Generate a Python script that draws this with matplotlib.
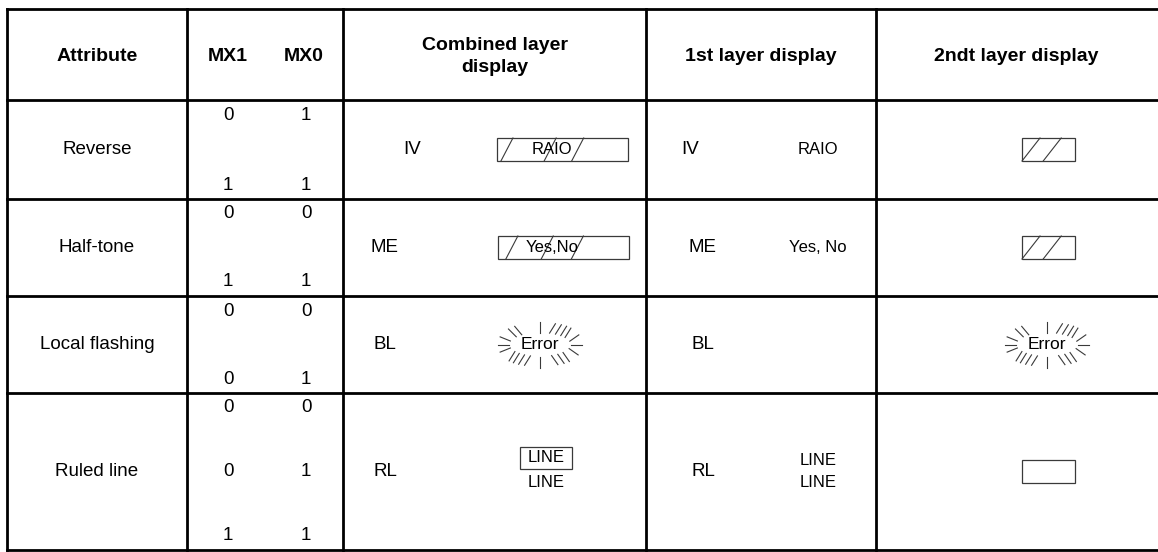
import numpy as np
import matplotlib.pyplot as plt
from matplotlib.patches import Rectangle

plt.rcParams['font.family'] = ['Liberation Sans', 'DejaVu Sans']

# table content
headers = ["Attribute", "MX1", "MX0", "Combined layer\ndisplay",
           "1st layer display", "2ndt layer display"]
attributes = ["Reverse", "Half-tone", "Local flashing", "Ruled line"]
mx1_values = [["0", "1"], ["0", "1"], ["0", "0"], ["0", "0", "1"]]
mx0_values = [["1", "1"], ["0", "1"], ["0", "1"], ["0", "1", "1"]]
codes = ["IV", "ME", "BL", "RL"]
combined_text = ["RAIO", "Yes,No", "Error", "LINE"]
first_text = ["RAIO", "Yes, No", "", "LINE\nLINE"]
second_kind = ["hatch", "hatch", "flash", "box"]

# layout (pixels, y grows downwards)
W, H = 1158, 552
col_edges = [7, 187, 343, 646, 876, 1158]
row_edges = [9, 100, 199, 296, 393, 550]
HEAD, BIG, SMALL = 14, 13.5, 12
LINE_C = 'black'
BOX_C = '#3a3a3a'

fig = plt.figure(figsize=(W / 100, H / 100), dpi=100)
ax = fig.add_axes([0, 0, 1, 1])
ax.set_xlim(0, W)
ax.set_ylim(H, 0)
ax.axis('off')

# grid
for y in row_edges:
    ax.plot([col_edges[0], col_edges[-1]], [y, y], color=LINE_C, lw=2.0,
            solid_capstyle='projecting')
for x in col_edges[:-1]:
    ax.plot([x, x], [row_edges[0], row_edges[-1]], color=LINE_C, lw=2.0,
            solid_capstyle='projecting')


def txt(x, y, s, size=BIG, **kw):
    ax.text(x, y, s, ha='center', va='center', fontsize=size, **kw)


def box(x0, x1, yc, h=23, diag=(), dx=12):
    ax.add_patch(Rectangle((x0, yc - h / 2), x1 - x0, h, fill=False,
                           ec=BOX_C, lw=0.9))
    w = x1 - x0
    for f in diag:
        xs = x0 + f * w
        ax.plot([xs, xs + dx], [yc + h / 2, yc - h / 2], color=BOX_C, lw=0.8)


# start angle on the ellipse, direction of the stroke (degrees, y up)
rays = [(180, 180), (163, 158), (197, 202),
        (140, 135), (126, 130),
        (90, 90),
        (72, 58), (60, 58), (48, 58), (36, 58),
        (16, 35), (0, 0),
        (252, 238), (240, 238), (228, 238), (216, 238),
        (270, 270),
        (292, 305), (305, 305), (318, 305), (340, 325)]


def flash(cx, cy, s, size=12.5):
    txt(cx, cy, s, size)
    a, b, ln = 31, 12, 11
    for ang, d in rays:
        t, p = np.radians(ang), np.radians(d)
        x0, y0 = cx + a * np.cos(t), cy - b * np.sin(t)
        ax.plot([x0, x0 + ln * np.cos(p)], [y0, y0 - ln * np.sin(p)],
                color=BOX_C, lw=0.8)


# header
hy = (row_edges[0] + row_edges[1]) / 2 + 2
hx = [97, 228, 304, 495, 761, 1016]
for x, s in zip(hx, headers):
    ax.text(x, hy, s, ha='center', va='center', fontsize=HEAD,
            fontweight='bold', linespacing=1.4)

for i, name in enumerate(attributes):
    top, bot = row_edges[i + 1], row_edges[i + 2]
    yc = (top + bot) / 2
    txt(97, yc, name)

    n = len(mx1_values[i])
    ys = np.linspace(top + 15, bot - 14, n)
    for y, a, b in zip(ys, mx1_values[i], mx0_values[i]):
        txt(228, y, a)
        txt(306, y, b)

    # combined layer
    code_x = 412 if codes[i] == "IV" else 385
    txt(code_x, yc, codes[i])
    s = combined_text[i]
    if s == "RAIO":
        box(497, 628, yc, diag=(0.03, 0.36, 0.57))
        txt(552, yc, s, SMALL)
    elif s == "Yes,No":
        box(498, 629, yc, diag=(0.06, 0.33, 0.56))
        txt(552, yc, s, SMALL)
    elif s == "Error":
        flash(540, yc, s)
    else:
        box(520, 572, yc - 14, h=22)
        txt(546, yc - 14, s, SMALL)
        txt(546, yc + 11, s, SMALL)

    # first layer
    txt(703 if codes[i] != "IV" else 690, yc, codes[i])
    if first_text[i]:
        ax.text(818, yc, first_text[i], ha='center', va='center',
                fontsize=SMALL, linespacing=1.55)

    # second layer
    k = second_kind[i]
    if k == "hatch":
        box(1022, 1075, yc, diag=(0.0, 0.4), dx=18)
    elif k == "flash":
        flash(1047, yc, "Error")
    else:
        box(1022, 1075, yc, h=23)

fig.savefig('out.png', dpi=100)
